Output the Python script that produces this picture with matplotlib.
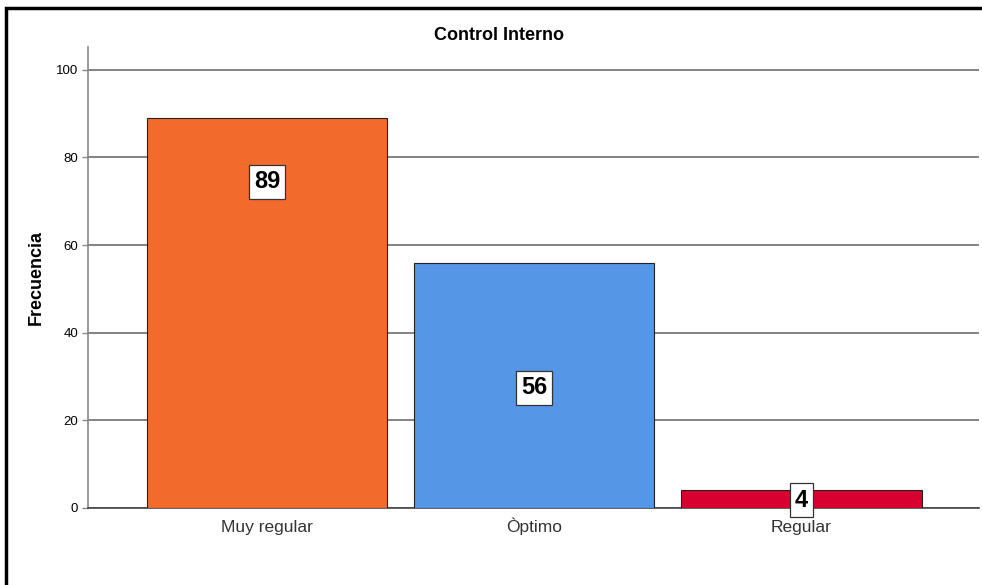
import matplotlib.pyplot as plt
from matplotlib.patches import Rectangle

categorias = ['Muy regular', 'Òptimo', 'Regular']
frecuencia = [89, 56, 4]
colores = ['#F26A2C', '#5596E6', '#D7002F']
pos_etiqueta = [74.4, 27.4, 1.8]

plt.rcParams['font.family'] = ['Liberation Sans', 'DejaVu Sans']

fig = plt.figure(figsize=(9.82, 5.85), dpi=100)
ax = fig.add_axes([88 / 982, 1 - 508 / 585, (979 - 88) / 982, (508 - 47) / 585])

x = list(range(len(categorias)))
ax.bar(x, frecuencia, width=0.9, color=colores, edgecolor='#222222', linewidth=0.8, zorder=3)
for xi, v, yp in zip(x, frecuencia, pos_etiqueta):
    ax.text(xi, yp, str(v), ha='center', va='center', fontsize=17, fontweight='bold', zorder=5,
            bbox=dict(boxstyle='square,pad=0.22', facecolor='white', edgecolor='#333333', linewidth=0.9))

ax.set_xlim(-0.67, 2.665)
ax.set_ylim(0, 105.2)
ax.set_yticks([0, 20, 40, 60, 80, 100])
ax.yaxis.grid(True, color='#6E6E6E', linewidth=1.2, zorder=0)
ax.set_axisbelow(True)
ax.set_xticks(x)
ax.set_xticklabels([])
for xi, c in zip(x, categorias):
    ax.text(xi, -0.052, c, transform=ax.get_xaxis_transform(), ha='center', va='baseline',
            fontsize=12.5, color='#333333')
ax.tick_params(axis='x', length=0)
ax.tick_params(axis='y', length=4, width=1, color='#888888', labelsize=9.5, pad=3)
for s in ['top', 'right']:
    ax.spines[s].set_visible(False)
ax.spines['left'].set_color('#888888')
ax.spines['left'].set_linewidth(1.2)
ax.spines['bottom'].set_color('#444444')
ax.spines['bottom'].set_linewidth(1.2)

ax.set_ylabel('Frecuencia', fontsize=13, fontweight='bold', labelpad=8)
fig.text(499 / 982, 1 - 35 / 585, 'Control Interno', ha='center', va='center', fontsize=13, fontweight='bold')

fig.patches.append(Rectangle((6 / 982, -0.05), 1.1, 1 - 8 / 585 + 0.05, transform=fig.transFigure,
                             fill=False, edgecolor='black', linewidth=2.5, figure=fig))

fig.savefig('out.png', dpi=100)
